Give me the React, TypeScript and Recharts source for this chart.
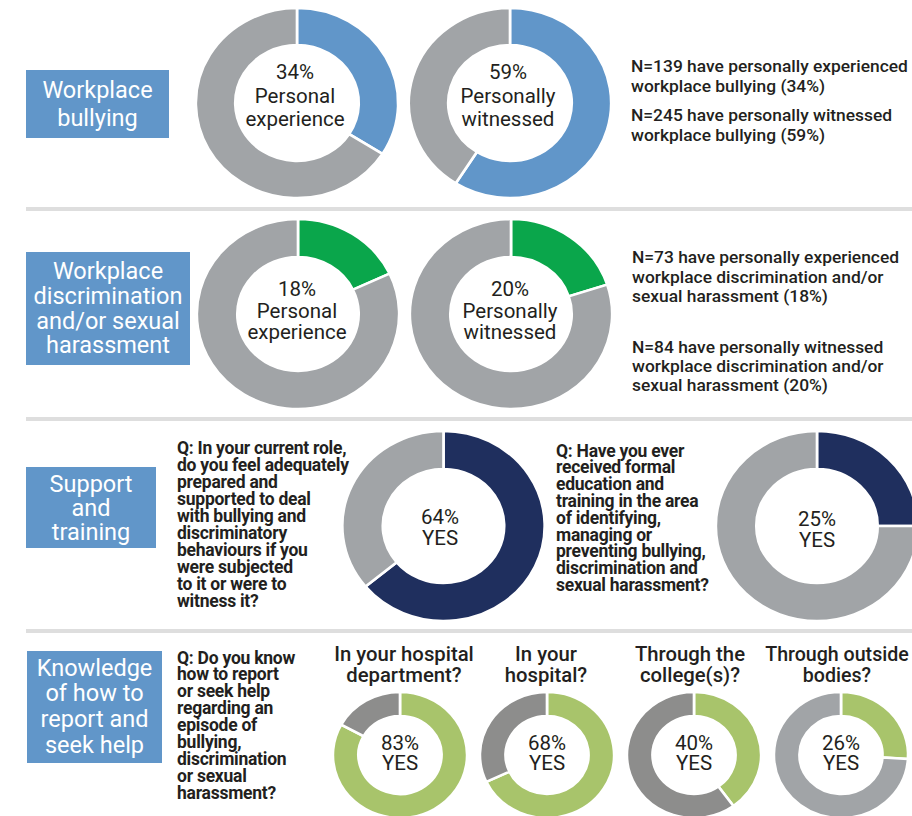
import { PieChart, Pie, Cell } from "recharts";

// survey results (% answering yes / affected)
const bullyingPct = [34, 59];
const bullyingCaptions = ["Personal\nexperience", "Personally\nwitnessed"];
const discrimPct = [18, 20];
const trainingPct = [64, 25];
const reportPct = [83, 68, 40, 26];
const reportTitles = [
  "In your hospital\ndepartment?",
  "In your\nhospital?",
  "Through the\ncollege(s)?",
  "Through outside\nbodies?",
];
const sectionTitles = [
  "Workplace\nbullying",
  "Workplace\ndiscrimination\nand/or sexual\nharassment",
  "Support\nand\ntraining",
  "Knowledge\nof how to\nreport and\nseek help",
];
const bullyingNotes = [
  "N=139 have personally experienced\nworkplace bullying (34%)",
  "N=245 have personally witnessed\nworkplace bullying (59%)",
];
const discrimNotes = [
  "N=73 have personally experienced\nworkplace discrimination and/or\nsexual harassment (18%)",
  "N=84 have personally witnessed\nworkplace discrimination and/or\nsexual harassment (20%)",
];
const questions = [
  "Q: In your current role,\ndo you feel adequately\nprepared and\nsupported to deal\nwith bullying and\ndiscriminatory\nbehaviours if you\nwere subjected\nto it or were to\nwitness it?",
  "Q: Have you ever\nreceived formal\neducation and\ntraining in the area\nof identifying,\nmanaging or\npreventing bullying,\ndiscrimination and\nsexual harassment?",
  "Q: Do you know\nhow to report\nor seek help\nregarding an\nepisode of\nbullying,\ndiscrimination\nor sexual\nharassment?",
];

const BLUE = "#6196C9";
const GRAY = "#A1A4A7";
const DGRAY = "#8D8D8C";
const GREEN = "#0AA64B";
const NAVY = "#1F2F5E";
const LGREEN = "#A8C46B";
const INK = "#231F20";
const FONT = "Roboto, 'DejaVu Sans', sans-serif";

// original artwork is slightly stretched horizontally
const SX = 1.065;
const W = 912;
const H = 816;

function ring(key: string, cx: number, cy: number, outer: number, inner: number, pct: number, on: string, off: string) {
  const data = [
    { name: "yes", value: pct },
    { name: "no", value: 100 - pct },
  ];
  return (
    <Pie
      key={key}
      data={data}
      dataKey="value"
      cx={cx / SX}
      cy={cy}
      outerRadius={outer}
      innerRadius={inner}
      startAngle={90}
      endAngle={-270}
      stroke="#fff"
      strokeWidth={2.5}
      isAnimationActive={false}
    >
      <Cell fill={on} />
      <Cell fill={off} />
    </Pie>
  );
}

function Txt({ x, y, text, size = 20.5, lh = 22, weight = 400, center = false, color = INK, ls = 0 }: any) {
  return (
    <div
      style={{
        position: "absolute",
        left: center ? x - 150 : x,
        width: center ? 300 : undefined,
        top: y - lh / 2,
        fontSize: size,
        lineHeight: `${lh}px`,
        fontWeight: weight,
        color,
        letterSpacing: ls,
        textAlign: center ? "center" : "left",
        whiteSpace: "pre",
      }}
    >
      {text}
    </div>
  );
}

function Box({ x, y, w, h, text, lh }: any) {
  return (
    <div
      style={{
        position: "absolute",
        left: x,
        top: y,
        width: w,
        height: h,
        background: BLUE,
        color: "#fff",
        fontSize: 23.5,
        lineHeight: `${lh}px`,
        display: "flex",
        alignItems: "center",
        justifyContent: "center",
        textAlign: "center",
        whiteSpace: "pre",
      }}
    >
      {text}
    </div>
  );
}

function Rule({ y }: { y: number }) {
  return <div style={{ position: "absolute", left: 26, top: y, width: W - 26, height: 4, background: "#DEDEDE" }} />;
}

export default function App() {
  const bigX = [297, 510];
  const reportX = [400, 547, 694, 841];
  const titleX = [404, 546, 690, 837];
  return (
    <div
      style={{
        position: "absolute",
        left: 0,
        top: 0,
        width: W,
        height: H,
        overflow: "hidden",
        background: "#fff",
        fontFamily: FONT,
      }}
    >
      <div style={{ position: "absolute", left: 0, top: 0, transform: `scaleX(${SX})`, transformOrigin: "0 0" }}>
        <PieChart width={Math.ceil(W / SX)} height={H} margin={{ top: 0, right: 0, bottom: 0, left: 0 }}>
          {bullyingPct.map((p, i) => ring(`b${i}`, bigX[i], 103, 95, 58, p, BLUE, GRAY))}
          {discrimPct.map((p, i) => ring(`d${i}`, bigX[i] + 1, 314, 95, 57, p, GREEN, GRAY))}
          {ring("t0", 443.5, 526, 95, 57, trainingPct[0], NAVY, GRAY)}
          {ring("t1", 817, 526, 95, 57, trainingPct[1], NAVY, GRAY)}
          {reportPct.map((p, i) => ring(`r${i}`, reportX[i], 755, 63, 39, p, LGREEN, i === 3 ? GRAY : DGRAY))}
        </PieChart>
      </div>

      <Rule y={207} />
      <Rule y={417} />
      <Rule y={629} />

      <Box x={26} y={70} w={143} h={68} lh={28} text={sectionTitles[0]} />
      <Box x={26} y={252} w={164} h={113} lh={24.7} text={sectionTitles[1]} />
      <Box x={26} y={467} w={130} h={81} lh={24} text={sectionTitles[2]} />
      <Box x={27} y={651} w={135} h={112} lh={25.7} text={sectionTitles[3]} />

      {bullyingPct.map((p, i) => (
        <Txt key={`bt${i}`} x={bigX[i] - 2} y={73} lh={23.5} center text={`${p}%\n${bullyingCaptions[i]}`} />
      ))}
      {discrimPct.map((p, i) => (
        <Txt key={`dt${i}`} x={bigX[i]} y={290} lh={21.5} center text={`${p}%\n${bullyingCaptions[i]}`} />
      ))}
      <Txt x={440} y={517} lh={21} center text={`${trainingPct[0]}%\nYES`} />
      <Txt x={817} y={519} lh={21} center text={`${trainingPct[1]}%\nYES`} />
      {reportPct.map((p, i) => (
        <Txt key={`rt${i}`} x={reportX[i]} y={743} lh={20} center text={`${p}%\nYES`} />
      ))}
      {reportTitles.map((t, i) => (
        <Txt
          key={`rh${i}`}
          x={titleX[i]}
          y={654}
          lh={21}
          size={i === 3 ? 19.6 : 20.3}
          weight={500}
          center
          text={t}
        />
      ))}

      <Txt x={631} y={67} lh={19.5} size={17.4} weight={500} text={bullyingNotes[0]} />
      <Txt x={631} y={116} lh={19.5} size={17.4} weight={500} text={bullyingNotes[1]} />
      <Txt x={632} y={258} lh={19.5} size={17.4} weight={500} text={discrimNotes[0]} />
      <Txt x={632} y={347} lh={19} size={17.4} weight={500} text={discrimNotes[1]} />

      <Txt x={177} y={448} lh={17} size={17.5} weight={700} ls={-0.25} text={questions[0]} />
      <Txt x={556} y={451} lh={16.8} size={17.5} weight={700} ls={-0.25} text={questions[1]} />
      <Txt x={177} y={658} lh={16.9} size={17.5} weight={700} ls={-0.25} text={questions[2]} />
    </div>
  );
}
